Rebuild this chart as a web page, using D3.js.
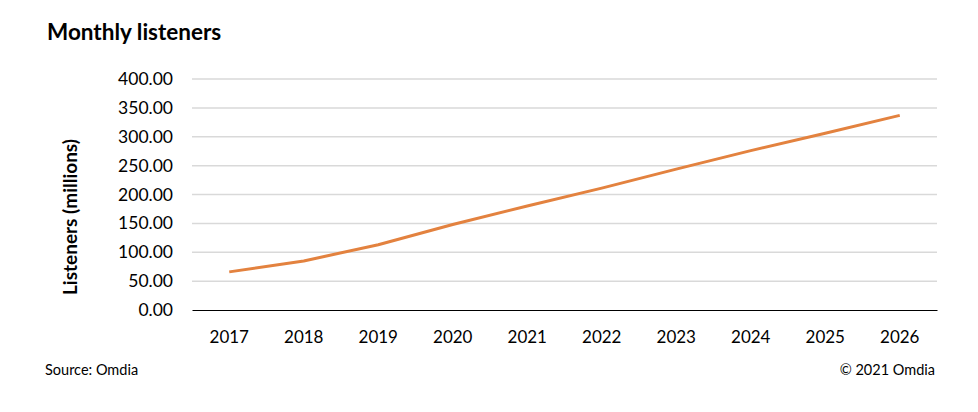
<!DOCTYPE html>
<html>
<head>
<meta charset="utf-8">
<script src="https://cdn.jsdelivr.net/npm/d3@7"></script>
<style>
  html, body { margin: 0; padding: 0; background: #fff; }
  svg { display: block; }
  text { font-family: Lato, "Open Sans", sans-serif; fill: #000; }
</style>
</head>
<body>
<svg id="chart" width="978" height="412"></svg>
<script>
const years = ["2017","2018","2019","2020","2021","2022","2023","2024","2025","2026"];
const listeners = [66, 85, 113, 148, 180, 211, 244, 276, 306, 337];
const yTicks = [0, 50, 100, 150, 200, 250, 300, 350, 400];
const title = "Monthly listeners";
const yTitle = "Listeners (millions)";
const source = "Source: Omdia";
const copyright = "© 2021 Omdia";

const svg = d3.select("#chart");
const margin = {left: 192, right: 41, top: 79, bottom: 102};
const W = 978, H = 412;

const x = d3.scaleBand().domain(years).range([margin.left, W - margin.right]);
const y = d3.scaleLinear().domain([0, 400]).range([H - margin.bottom, margin.top]);

// gridlines
svg.append("g")
  .selectAll("line")
  .data(yTicks.filter(d => d > 0))
  .join("line")
  .attr("x1", margin.left).attr("x2", W - margin.right)
  .attr("y1", d => y(d)).attr("y2", d => y(d))
  .attr("stroke", "#d9d9d9").attr("stroke-width", 1.5);

// y tick labels
const yAxis = d3.axisLeft(y).tickValues(yTicks).tickFormat(d3.format(".2f")).tickSize(0).tickPadding(19);
const gy = svg.append("g").attr("transform", `translate(${margin.left},0)`).call(yAxis);
gy.select(".domain").remove();
gy.selectAll("text").attr("font-size", 17.5).attr("font-family", "Lato, sans-serif").attr("fill", "#000");

// x axis
const xAxis = d3.axisBottom(x).tickSize(0).tickPadding(21);
const gx = svg.append("g").attr("transform", `translate(0,${y(0)})`).call(xAxis);
gx.select(".domain").attr("stroke", "#000").attr("stroke-width", 1.2);
gx.selectAll("text").attr("font-size", 17).attr("font-family", "Lato, sans-serif").attr("fill", "#000");

// line
const line = d3.line()
  .x((d, i) => x(years[i]) + x.bandwidth() / 2)
  .y(d => y(d));
svg.append("path")
  .datum(listeners)
  .attr("d", line)
  .attr("fill", "none")
  .attr("stroke", "#e3823f")
  .attr("stroke-width", 3)
  .attr("stroke-linejoin", "round")
  .attr("stroke-linecap", "butt");

// title
svg.append("text").attr("x", 47).attr("y", 40)
  .attr("font-size", 22.5).attr("font-weight", "bold").text(title);

// y title
svg.append("text")
  .attr("transform", `translate(77,217) rotate(-90)`)
  .attr("text-anchor", "middle")
  .attr("font-size", 19).attr("font-weight", "bold").text(yTitle);

// footer
svg.append("text").attr("x", 45).attr("y", 375).attr("font-size", 14.5).text(source);
svg.append("text").attr("x", 935).attr("y", 375).attr("text-anchor", "end").attr("font-size", 14.5).text(copyright);
</script>
</body>
</html>
